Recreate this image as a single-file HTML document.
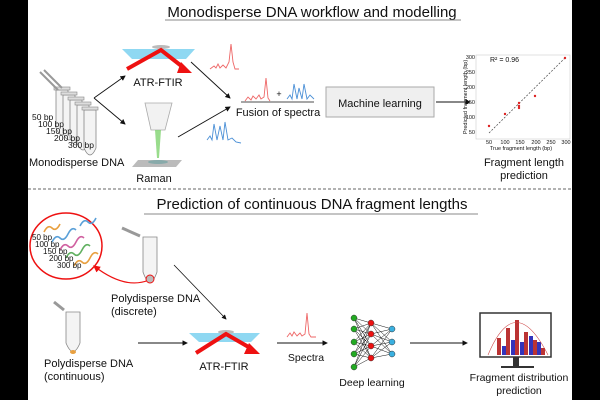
<!DOCTYPE html>
<html><head><meta charset="utf-8"><style>
html,body{margin:0;padding:0;background:#000}
svg{display:block}
text{font-family:"Liberation Sans",sans-serif;fill:#111}
</style></head><body>
<svg width="600" height="400" viewBox="0 0 600 400" xmlns="http://www.w3.org/2000/svg">
<defs>
<marker id="ah" markerWidth="6" markerHeight="6" refX="5" refY="3" orient="auto"><path d="M0,0 L6,3 L0,6 z" fill="#111"/></marker>
<marker id="rh" markerWidth="6" markerHeight="6" refX="5" refY="3" orient="auto"><path d="M0,0 L6,3 L0,6 z" fill="#e11"/></marker>
<g id="tube"><path d="M0,0 L12,0 L12,38 Q6,52 0,38 Z" fill="#f4f4f4" stroke="#888" stroke-width="0.8"/><rect x="-2" y="-3" width="16" height="3" fill="#ddd" stroke="#888" stroke-width="0.6"/></g>
</defs>
<rect x="0" y="0" width="600" height="400" fill="#000"/>
<rect x="28" y="0" width="544" height="400" fill="#fff"/>

<!-- Title 1 -->
<text x="312" y="17" font-size="15" text-anchor="middle">Monodisperse DNA workflow and modelling</text>
<line x1="165" y1="20" x2="461" y2="20" stroke="#888" stroke-width="1"/>

<!-- tubes -->
<g>
<use href="#tube" x="56" y="90"/><use href="#tube" x="63" y="95"/><use href="#tube" x="70" y="100"/><use href="#tube" x="77" y="105"/><use href="#tube" x="84" y="110"/>
<path d="M40,72 L58,90 M44,70 L62,88" stroke="#999" stroke-width="2"/>
</g>
<text font-size="8.5"><tspan x="32" y="120">50 bp</tspan><tspan x="38" y="127">100 bp</tspan><tspan x="46" y="134">150 bp</tspan><tspan x="54" y="141">200 bp</tspan><tspan x="68" y="148">300 bp</tspan></text>
<text x="29" y="166" font-size="11">Monodisperse DNA</text>

<line x1="94" y1="98" x2="125" y2="76" stroke="#111" stroke-width="0.9" marker-end="url(#ah)"/>
<line x1="94" y1="98" x2="125" y2="124" stroke="#111" stroke-width="0.9" marker-end="url(#ah)"/>

<!-- ATR prism -->
<polygon points="122,49 195,49 186,59 132,59" fill="#8fd8f2"/>
<ellipse cx="161" cy="47" rx="9" ry="2" fill="#bbb"/>
<path d="M127,69 L161,50 L184,68" fill="none" stroke="#e11" stroke-width="4"/>
<polygon points="181,62 192,73 177,73" fill="#e11"/>
<text x="158" y="86" font-size="11" text-anchor="middle">ATR-FTIR</text>

<!-- Raman -->
<polygon points="145,103 172,103 165,130 151,130" fill="#f2f2f2" stroke="#aaa" stroke-width="0.8"/>
<polygon points="155,130 161,130 159,158 157,158" fill="#7fd36f" opacity="0.8"/>
<polygon points="138,160 182,160 176,167 132,167" fill="#bbb"/>
<ellipse cx="158" cy="162" rx="10" ry="2" fill="#8aa"/>
<text x="154" y="182" font-size="11" text-anchor="middle">Raman</text>

<!-- spectra -->
<path d="M210,69 L214,66 L216,68 L218,64 L220,68 L223,65 L226,68 L229,62 L231,44 L233,62 L235,69 L239,69" fill="none" stroke="#e66" stroke-width="0.9"/>
<path d="M207,140 L210,136 L212,140 L214,124 L217,140 L220,126 L223,140 L225,122 L228,140 L232,138 L236,142 L241,143" fill="none" stroke="#4a8fd6" stroke-width="0.9"/>
<line x1="191" y1="62" x2="230" y2="98" stroke="#111" stroke-width="0.9" marker-end="url(#ah)"/>
<line x1="178" y1="137" x2="230" y2="107" stroke="#111" stroke-width="0.9" marker-end="url(#ah)"/>

<!-- fusion -->
<line x1="241" y1="102" x2="314" y2="102" stroke="#111" stroke-width="0.8"/>
<path d="M245,101 L248,97 L251,100 L253,96 L256,99 L259,95 L261,99 L264,97 L266,78 L268,98 L270,101" fill="none" stroke="#e66" stroke-width="0.9"/>
<text x="279" y="97" font-size="9" text-anchor="middle">+</text>
<path d="M287,99 L290,95 L292,99 L294,84 L297,99 L299,88 L302,99 L304,84 L307,99 L310,95 L314,99" fill="none" stroke="#4a8fd6" stroke-width="0.9"/>
<text x="278" y="116" font-size="11" text-anchor="middle">Fusion of spectra</text>

<rect x="326" y="87" width="108" height="30" fill="#efefef" stroke="#aaa" stroke-width="1"/>
<text x="380" y="107" font-size="11" text-anchor="middle">Machine learning</text>
<line x1="436" y1="102" x2="470" y2="102" stroke="#111" stroke-width="0.9" marker-end="url(#ah)"/>

<!-- plot -->
<rect x="476" y="55" width="94" height="84" fill="#fff" stroke="#ccc" stroke-width="0.6"/>
<g font-size="5.5" fill="#333">
<text x="475" y="59" text-anchor="end">300</text><text x="475" y="74" text-anchor="end">250</text><text x="475" y="89" text-anchor="end">200</text><text x="475" y="104" text-anchor="end">150</text><text x="475" y="119" text-anchor="end">100</text><text x="475" y="134" text-anchor="end">50</text>
<text x="489" y="144" text-anchor="middle">50</text><text x="505" y="144" text-anchor="middle">100</text><text x="520" y="144" text-anchor="middle">150</text><text x="536" y="144" text-anchor="middle">200</text><text x="551" y="144" text-anchor="middle">250</text><text x="566" y="144" text-anchor="middle">300</text>
<text x="521" y="150" text-anchor="middle">True fragment length (bp)</text>
<text transform="translate(467,97) rotate(-90)" text-anchor="middle">Predicted fragment length (bp)</text>
</g>
<text x="490" y="62" font-size="7">R² = 0.96</text>
<line x1="489" y1="133" x2="566" y2="57" stroke="#444" stroke-width="0.7" stroke-dasharray="2,1.5"/>
<g fill="#d22"><circle cx="489" cy="126" r="1.2"/><circle cx="505" cy="114" r="1.2"/><circle cx="519" cy="103" r="1.2"/><circle cx="519" cy="106" r="1.2"/><circle cx="519" cy="108" r="1.2"/><circle cx="535" cy="96" r="1.2"/><circle cx="565" cy="58" r="1.2"/></g>
<text x="524" y="166" font-size="11" text-anchor="middle">Fragment length</text>
<text x="524" y="179" font-size="11" text-anchor="middle">prediction</text>

<line x1="28" y1="189" x2="572" y2="189" stroke="#666" stroke-width="1" stroke-dasharray="3,2"/>

<!-- Title 2 -->
<text x="312" y="209" font-size="15" text-anchor="middle">Prediction of continuous DNA  fragment lengths</text>
<line x1="144" y1="214" x2="478" y2="214" stroke="#888" stroke-width="1"/>

<ellipse cx="66" cy="246" rx="36" ry="33" fill="#fff" stroke="#e11" stroke-width="1.5"/>
<g stroke-width="1.6" fill="none">
<path d="M44,232 q4,-8 8,-4 t8,-4" stroke="#e8a040"/><path d="M52,242 q4,-8 8,-4 t8,-4 t8,-4" stroke="#5aa0d8"/>
<path d="M60,250 q4,-8 8,-4 t8,-4 t8,-4" stroke="#d060a0"/><path d="M66,258 q4,-8 8,-4 t8,-4 t8,-4" stroke="#60b060"/>
<path d="M74,266 q4,-8 8,-4 t8,-4 t8,-4" stroke="#e8a040"/><path d="M80,226 q4,-8 8,-4 t8,-4" stroke="#5aa0d8"/>
</g>
<text font-size="8"><tspan x="32" y="240">50 bp</tspan><tspan x="35" y="247">100 bp</tspan><tspan x="43" y="254">150 bp</tspan><tspan x="49" y="261">200 bp</tspan><tspan x="57" y="268">300 bp</tspan></text>
<path d="M149,280 Q125,290 94,266" fill="none" stroke="#e11" stroke-width="1.2" marker-end="url(#rh)"/>
<g><path d="M143,237 L157,237 L157,272 Q150,292 143,272 Z" fill="#f4f4f4" stroke="#888" stroke-width="0.8"/><path d="M122,228 L140,236" stroke="#999" stroke-width="3"/></g>
<circle cx="150" cy="279" r="4" fill="#bbb" stroke="#e11" stroke-width="1"/>
<text x="111" y="302" font-size="11">Polydisperse DNA</text>
<text x="111" y="315" font-size="11">(discrete)</text>
<line x1="174" y1="265" x2="226" y2="319" stroke="#111" stroke-width="0.8" marker-end="url(#ah)"/>

<g><path d="M66,312 L80,312 L80,343 Q73,360 66,343 Z" fill="#f4f4f4" stroke="#888" stroke-width="0.8"/><path d="M54,302 L64,310" stroke="#999" stroke-width="3"/><ellipse cx="73" cy="352" rx="3" ry="2" fill="#e8a040"/></g>
<text x="44" y="367" font-size="11">Polydisperse DNA</text>
<text x="44" y="380" font-size="11">(continuous)</text>
<line x1="138" y1="343" x2="187" y2="343" stroke="#111" stroke-width="0.9" marker-end="url(#ah)"/>

<polygon points="189,333 260,333 251,342 199,342" fill="#8fd8f2"/>
<ellipse cx="226" cy="332" rx="8" ry="2" fill="#bbb"/>
<path d="M196,353 L226,334 L252,349" fill="none" stroke="#e11" stroke-width="4"/>
<polygon points="249,343 260,354 244,354" fill="#e11"/>
<text x="224" y="370" font-size="11" text-anchor="middle">ATR-FTIR</text>

<line x1="277" y1="343" x2="327" y2="343" stroke="#111" stroke-width="0.9" marker-end="url(#ah)"/>
<path d="M287,337 L290,333 L292,336 L294,332 L297,336 L300,333 L302,336 L305,334 L307,313 L309,334 L311,337 L316,337" fill="none" stroke="#e66" stroke-width="0.9"/>
<text x="306" y="361" font-size="10.5" text-anchor="middle">Spectra</text>

<!-- NN -->
<g stroke="#111" stroke-width="0.5">
<path d="M354,318 L371,323 M354,318 L371,334 M354,318 L371,346 M354,318 L371,358 M354,329 L371,323 M354,329 L371,334 M354,329 L371,346 M354,329 L371,358 M354,342 L371,323 M354,342 L371,334 M354,342 L371,346 M354,342 L371,358 M354,354 L371,323 M354,354 L371,334 M354,354 L371,346 M354,354 L371,358 M354,367 L371,323 M354,367 L371,334 M354,367 L371,346 M354,367 L371,358 M371,323 L392,329 M371,323 L392,342 M371,323 L392,354 M371,334 L392,329 M371,334 L392,342 M371,334 L392,354 M371,346 L392,329 M371,346 L392,342 M371,346 L392,354 M371,358 L392,329 M371,358 L392,342 M371,358 L392,354"/>
</g>
<g stroke="#333" stroke-width="0.5">
<circle cx="354" cy="318" r="3" fill="#2a2"/><circle cx="354" cy="329" r="3" fill="#2a2"/><circle cx="354" cy="342" r="3" fill="#2a2"/><circle cx="354" cy="354" r="3" fill="#2a2"/><circle cx="354" cy="367" r="3" fill="#2a2"/>
<circle cx="371" cy="323" r="3" fill="#e11"/><circle cx="371" cy="334" r="3" fill="#e11"/><circle cx="371" cy="346" r="3" fill="#e11"/><circle cx="371" cy="358" r="3" fill="#e11"/>
<circle cx="392" cy="329" r="3" fill="#3ab0e0"/><circle cx="392" cy="342" r="3" fill="#3ab0e0"/><circle cx="392" cy="354" r="3" fill="#3ab0e0"/>
</g>
<text x="372" y="386" font-size="10.5" text-anchor="middle">Deep learning</text>
<line x1="410" y1="343" x2="467" y2="343" stroke="#111" stroke-width="0.9" marker-end="url(#ah)"/>

<!-- monitor -->
<rect x="480" y="313" width="71" height="44" fill="#fff" stroke="#333" stroke-width="1.5"/>
<g fill="#b33">
<rect x="497" y="338" width="4" height="17"/><rect x="506" y="328" width="4" height="27"/><rect x="515" y="320" width="4" height="35"/><rect x="524" y="332" width="4" height="23"/><rect x="533" y="340" width="4" height="15"/><rect x="541" y="348" width="4" height="7"/>
</g>
<g fill="#33b"><rect x="502" y="346" width="4" height="9"/><rect x="511" y="340" width="4" height="15"/><rect x="520" y="342" width="4" height="13"/><rect x="529" y="336" width="4" height="19"/><rect x="537" y="342" width="4" height="13"/></g>
<path d="M488,355 Q515,290 548,355" fill="none" stroke="#c44" stroke-width="0.6"/>
<rect x="513" y="357" width="6" height="9" fill="#333"/>
<rect x="501" y="366" width="33" height="2" fill="#333"/>
<text x="519" y="381" font-size="10.5" text-anchor="middle">Fragment distribution</text>
<text x="519" y="394" font-size="10.5" text-anchor="middle">prediction</text>
</svg>
</body></html>
